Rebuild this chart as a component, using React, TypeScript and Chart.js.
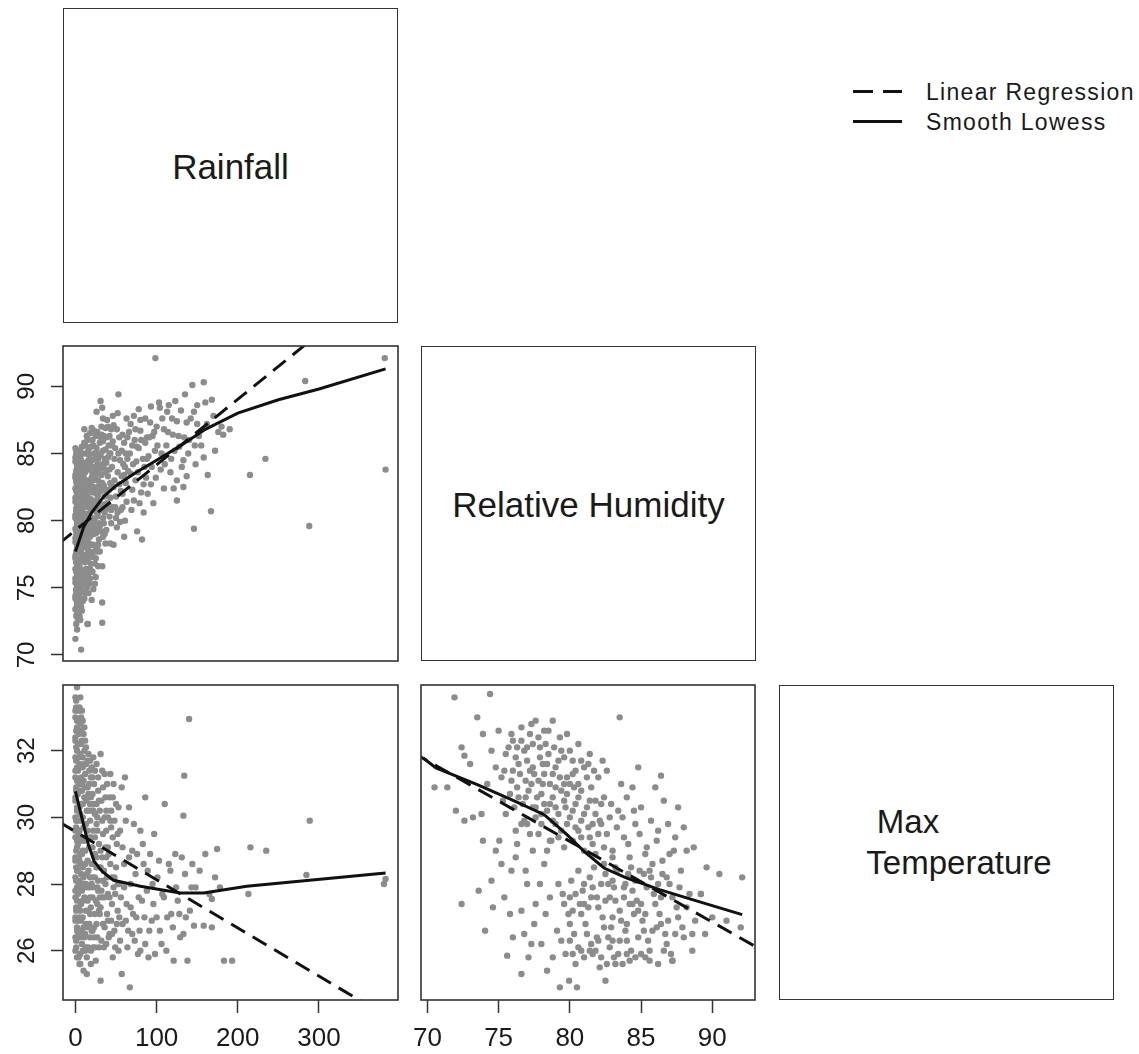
import React, { useEffect, useRef } from "react";
import { Chart, registerables } from "chart.js";

Chart.register(...registerables);

type Pt = [number, number];

// ---------------- DATA ----------------
const rainTicks = [0, 100, 200, 300];
const rhTicks = [70, 75, 80, 85, 90];
const tempTicks = [26, 28, 30, 32];

const rainRange = [-15.3, 397.3];
const rhRange = [69.55, 93.0];
const tempRange = [24.52, 33.97];

const variableLabels = ["Rainfall", "Relative Humidity", "Max", "Temperature"];
const legendLabels = ["Linear Regression", "Smooth Lowess"];

// Rainfall (x) vs Relative Humidity (y)
const rainRhPoints: Pt[] = [
  [0,85.4],[1,84.9],[0,84.4],[2,83.9],[0,83.4],[1,82.9],[0,82.4],[2,81.9],[0,81.4],[1,80.9],[0,80.4],[2,79.9],[0,79.4],[1,78.9],[0,78.4],[2,77.9],[0,77.4],[1,76.9],[0,76.4],[2,75.9],[0,75.4],[1,74.9],[0,74.4],[2,73.9],[0,73.4],[1,72.9],
  [3,85.1],[3,84.1],[3,83.1],[3,82.1],[3,81.1],[3,80.1],[3,79.1],[3,78.1],[3,77.1],[3,76.1],[3,75.1],[3,74.1],[2,73.2],
  [5,84.6],[6,83.6],[5,82.6],[7,81.6],[5,80.6],[6,79.6],[5,78.6],[7,77.6],[5,76.6],[6,75.6],[5,74.6],[7,73.6],[8,85.5],[8,83.0],[9,80.9],[8,79.0],[9,77.0],[8,75.2],[9,74.0],[6,72.6],
  [11,85.8],[12,84.3],[10,83.3],[13,82.4],[11,81.3],[14,80.2],[12,79.3],[15,78.4],[11,77.2],[13,76.4],[12,75.3],[16,74.6],[14,86.3],[17,84.9],[16,83.8],[18,82.8],[15,81.8],[19,80.8],[17,79.8],[18,78.8],[16,77.8],[19,76.8],[15,72.3],[18,75.7],[20,77.3],
  [21,86.0],[23,85.0],[22,84.0],[24,83.1],[21,82.1],[25,81.1],[23,80.1],[26,79.1],[22,78.2],[25,77.2],[21,76.2],[24,75.3],[27,86.6],[28,84.6],[26,83.6],[29,82.6],[27,81.6],[28,80.6],[30,79.6],[29,78.6],[27,77.7],[26,88.1],
  [31,88.9],[33,88.4],[32,87.0],[34,85.9],[31,84.9],[35,83.9],[33,82.8],[36,81.8],[32,80.8],[35,79.8],[34,78.8],[33,76.6],[37,85.3],[39,86.2],[38,84.3],[40,83.3],[41,82.3],[39,81.3],[42,80.3],[38,79.3],[43,78.3],[33,72.4],[33,73.9],[39,87.5],[44,86.8],[42,85.0],[45,84.0],
  [47,87.1],[49,85.4],[48,83.0],[50,81.8],[52,80.6],[51,79.5],[47,78.2],[54,86.2],[55,84.5],[57,83.3],[56,82.2],[58,81.0],[55,79.9],[60,85.8],[61,84.0],[62,82.8],[60,78.8],[63,87.6],[64,86.2],[53,89.4],[61,80.0],
  [67,85.0],[68,83.5],[70,82.3],[69,80.8],[72,87.8],[73,86.0],[75,84.4],[74,83.0],[76,79.2],[78,85.4],[80,87.5],[80,86.7],[81,82.1],[82,78.6],[84,80.6],[85,84.0],[86,85.8],[88,86.2],[87,83.2],[90,84.8],[92,87.3],[93,82.7],[95,86.3],[96,81.3],[98,85.2],[98.5,92.1],[100,87.0],
  [104,88.4],[105,83.8],[109,82.4],[109,86.8],[112,85.6],[113,88.1],[115,88.6],[118,84.6],[120,86.4],[121,82.4],[123,88.9],[125,87.4],[125,83.0],[125,81.5],[128,85.5],[133,82.5],[133,84.5],[135,89.4],[137,87.3],[137,83.3],[140,86.0],[144,90.1],[146,88.1],[146,79.4],[148,84.2],
  [150,88.6],[152,86.3],[158,90.3],[158,84.7],[162,87.2],[167,80.7],[168,89.0],[172,85.2],[176,86.6],[182,86.4],[215,83.4],[234,84.6],
  [283,90.4],[288,79.6],[381,92.1],[382,83.8],
  [7,70.4],[0,71.2],[2,71.9],[15,72.3],[20,74.1],[22,74.9],[25,75.8],[28,76.6],
  [1,85.2],[0,84.7],[2,84.2],[1,83.7],[0,83.2],[2,82.7],[1,82.2],[0,81.7],[2,81.2],[1,80.7],[0,80.2],[2,79.7],[1,79.2],[0,78.7],[2,78.2],[1,77.7],[0,77.2],[2,76.7],[1,76.2],[0,75.7],[2,75.2],[1,74.7],[0,74.2],[2,73.7],
  [4,84.9],[4,83.9],[4,82.9],[4,81.9],[4,80.9],[4,79.9],[4,78.9],[4,77.9],[4,76.9],[4,75.9],[4,74.9],[4,73.9],
  [6,84.2],[7,83.2],[6,82.2],[7,81.2],[6,80.2],[7,79.2],[6,78.2],[7,77.2],[6,76.2],[7,75.2],[6,74.2],
  [9,85.0],[10,84.0],[9,83.0],[10,82.0],[9,81.5],[10,80.5],[9,79.5],[10,78.5],[9,78.0],[10,77.0],[9,76.0],[10,75.5],[11,74.2],[8,73.3],[5,72.9],[3,72.6],[1,72.3],
  [12,85.6],[13,85.0],[14,84.0],[15,83.0],[13,82.0],[14,81.5],[13,80.5],[15,80.0],[14,79.0],[13,78.0],[14,77.5],[15,76.0],[13,75.8],[14,75.0],
  [16,85.3],[17,82.3],[18,81.3],[16,80.5],[17,78.3],[18,77.3],[16,76.3],[17,75.3],[19,85.5],[20,84.5],[21,83.5],[20,82.5],[19,81.6],[22,81.0],[20,80.2],[21,79.4],[19,78.2],[21,77.6],
  [23,86.7],[24,84.6],[22,83.0],[25,82.4],[24,80.9],[23,79.0],[24,76.8],[26,85.4],[27,84.2],[28,83.0],[26,82.0],[28,81.9],[27,80.3],[29,79.8],[28,78.2],[30,85.8],[30,84.0],[30,81.0],[30,77.7],
  [32,86.4],[34,85.2],[33,84.2],[36,84.6],[35,82.6],[37,82.3],[36,80.6],[38,80.9],[37,78.3],[40,87.0],[41,85.6],[43,85.0],[42,83.8],[44,82.7],[43,81.7],[45,81.0],[44,79.8],
  [46,87.8],[46,85.9],[48,84.6],[47,82.5],[49,81.0],[50,80.2],[52,88.0],[51,86.8],[53,85.0],[52,83.6],[54,82.7],[56,80.8],[58,86.4],[57,85.2],[59,84.2],[58,82.0],[60,83.4],[62,85.0],[63,81.4],[65,83.7],[66,86.6],[64,84.6],
  [68,87.2],[70,85.6],[71,84.2],[72,81.5],[74,86.8],[76,85.5],[77,83.6],[78,88.3],[79,81.3],[81,86.0],[83,84.6],[84,82.7],[86,87.6],[88,84.6],[89,82.0],[91,86.2],[93,88.5],[94,84.0],[97,86.6],[99,83.2],
  [101,85.6],[103,88.8],[106,85.0],[107,87.6],[110,84.2],[114,86.6],[117,83.6],[119,87.6],[122,85.2],[127,86.3],[130,88.2],[131,84.0],[134,86.2],[139,85.0],[142,87.6],[147,85.6],[150,87.2],[155,85.6],[160,88.8],[163,83.4],[170,87.8],[180,87.0],[190,86.8],
  [5,85.2],[6,84.8],[7,84.5],[8,84.0],[5,83.2],[7,82.8],[8,82.4],[5,81.9],[8,81.2],[6,80.7],[8,80.2],[5,79.8],[7,79.7],[6,79.0],[5,77.8],[8,77.4],[6,77.0],[8,76.3],[5,75.9],[7,74.8],
  [11,86.8],[12,83.6],[11,82.7],[12,81.8],[11,80.0],[12,78.8],[11,78.4],[12,76.9],[11,76.0],[12,74.6],
  [15,86.0],[16,84.5],[15,82.6],[16,81.0],[15,79.5],[16,79.2],[15,77.1],[16,75.7],
  [18,86.5],[18,84.2],[18,80.3],[18,79.6],[18,76.4],[20,86.9],[20,83.2],[20,81.3],[20,79.0],[20,76.2],
  [22,85.6],[23,83.9],[22,82.5],[23,81.4],[22,79.8],[23,77.7],[25,86.3],[26,84.9],[25,83.4],[26,80.6],[25,79.4],[26,78.0],
  [29,85.0],[29,83.6],[29,81.2],[28,79.4],[31,86.2],[32,83.4],[31,82.2],[32,79.2],[34,87.6],[35,86.3],[35,81.2],[34,80.2],[37,86.9],[37,83.6],[38,81.9],[36,79.0],[40,84.7],[41,81.1],[42,86.3],[43,82.8],[44,80.8],[45,85.6],
];
const rainRhRegression: Pt[] = [[-20, 78.3], [400, 98.8]];
const rainRhLowess: Pt[] = [
  [0,77.7],[5,78.6],[10,79.5],[20,80.6],[35,81.8],[50,82.6],[75,83.6],[100,84.5],[130,85.6],[160,86.8],[200,88.0],[250,89.0],[300,89.8],[382,91.3],
];

// Rainfall (x) vs Max Temperature (y)
const rainTempPoints: Pt[] = [
  [0,33.6],[1,33.3],[0,33.0],[2,32.7],[0,32.4],[1,32.1],[0,31.8],[2,31.5],[0,31.2],[1,30.9],[0,30.6],[2,30.3],[0,30.0],[1,29.7],[0,29.4],[2,29.1],[0,28.8],[1,28.5],[0,28.2],[2,27.9],[0,27.6],[1,27.3],[0,27.0],[2,26.7],[0,26.4],[1,26.1],
  [3,32.9],[3,32.2],[3,31.4],[3,30.7],[3,29.9],[3,29.2],[3,28.4],[3,27.7],[3,26.9],[2,33.9],[6,33.6],[2,25.8],
  [5,32.6],[6,31.9],[5,31.1],[7,30.4],[5,29.6],[6,28.9],[5,28.1],[7,27.4],[5,26.6],[6,25.9],[8,32.3],[9,31.5],[8,30.8],[9,30.0],[8,29.3],[9,28.5],[8,27.8],[9,27.0],[8,26.2],[7,33.0],
  [11,32.0],[12,31.3],[11,30.6],[13,29.8],[12,29.0],[14,28.3],[11,27.6],[13,26.8],[12,26.0],[15,31.7],[17,31.0],[16,30.2],[18,29.4],[15,28.7],[17,27.9],[16,27.2],[18,26.4],[19,25.6],[14,25.3],[20,31.5],[19,30.6],[20,28.0],
  [21,31.2],[23,30.4],[22,29.6],[24,28.9],[21,28.2],[25,27.5],[23,26.7],[22,26.1],[26,31.6],[28,30.8],[27,30.0],[29,29.2],[26,28.5],[28,27.8],[30,27.1],[27,26.4],[31,25.1],[32,30.5],[34,29.5],[33,28.8],[31,27.3],[34,26.8],[33,31.4],
  [36,31.3],[38,30.2],[37,29.1],[39,28.2],[36,27.6],[40,26.9],[38,26.2],[42,30.6],[44,29.7],[43,28.6],[45,27.4],[42,26.5],[47,31.0],[48,29.9],[50,28.5],[49,27.7],[51,26.8],[46,25.8],[53,30.3],[54,28.0],[52,27.2],[55,26.3],
  [57,25.3],[58,29.1],[60,27.9],[61,31.2],[62,26.9],[64,26.1],[66,28.8],[67,24.9],[68,27.3],[70,26.5],[72,29.8],[74,28.3],[75,27.0],[77,25.9],[79,26.6],[80,29.6],[82,27.5],[84,28.6],[86,30.6],[86,26.2],[88,27.8],[90,25.8],[92,28.9],[94,26.9],[96,27.4],[98,25.9],
  [101,28.2],[104,26.6],[107,27.7],[110,30.4],[112,26.0],[115,28.6],[118,27.1],[121,25.7],[123,28.9],[126,27.5],[129,26.4],[133,30.05],[134,31.25],[135,28.3],[133,26.5],[138,25.7],[140,32.95],[141,27.2],[144,28.6],[146,26.75],[148,27.9],
  [153,28.4],[158,26.75],[160,28.9],[165,27.7],[168,26.7],[168,27.55],[172,28.2],[174.5,29.05],[178,27.9],[183,25.7],[193,25.7],[213,27.7],[215.5,29.1],[235,29.0],
  [284.5,28.27],[288.6,29.9],[382,28.15],[380,28.0],
  [1,33.5],[0,33.2],[2,32.9],[1,32.6],[0,32.3],[2,32.0],[1,31.7],[0,31.4],[2,31.1],[1,30.8],[0,30.5],[2,30.2],[1,29.9],[0,29.6],[2,29.3],[1,29.0],[0,28.7],[2,28.4],[1,28.1],[0,27.8],[2,27.5],[1,27.2],[0,26.9],[2,26.6],[1,26.3],[0,26.0],
  [4,33.2],[4,32.5],[4,31.8],[4,31.0],[4,30.3],[4,29.5],[4,28.8],[4,28.0],[4,27.3],[4,26.5],[4,25.8],
  [6,32.8],[7,32.2],[6,31.5],[7,30.8],[6,30.1],[7,29.4],[6,28.6],[7,27.9],[6,27.2],[7,26.4],[6,25.6],[9,32.9],[10,32.5],[9,31.8],[10,31.1],[9,30.4],[10,29.7],[9,29.0],[10,28.2],[9,27.5],[10,26.7],[9,26.0],[10,25.4],
  [12,32.3],[13,31.6],[12,30.9],[14,30.2],[13,29.4],[12,28.6],[14,27.9],[13,27.2],[12,26.5],[14,25.8],[16,31.9],[17,31.4],[16,30.7],[18,29.9],[17,29.1],[16,28.4],[18,27.6],[17,26.8],[16,26.1],[19,31.2],[20,30.2],[19,29.4],[20,28.6],[19,27.3],[20,26.6],[19,26.0],
  [22,31.8],[23,31.0],[22,30.2],[24,29.4],[23,28.6],[22,27.9],[24,27.1],[23,26.4],[25,25.7],[26,30.4],[27,29.6],[26,28.8],[28,28.1],[27,27.4],[26,26.8],[29,26.1],[28,31.2],[30,30.2],[29,28.5],[30,27.6],[31,29.0],[32,26.3],[33,27.6],[34,30.9],[35,28.4],[35,26.1],
  [37,30.6],[38,29.6],[37,28.0],[39,27.1],[40,30.0],[41,28.9],[40,27.7],[41,26.4],[43,31.3],[44,30.2],[45,28.2],[44,26.9],[46,29.4],[47,27.9],[48,26.6],[50,30.4],[51,29.2],[52,28.0],[53,26.0],[55,29.6],[56,27.6],[57,30.9],[58,26.8],[60,28.6],
  [62,29.9],[63,27.4],[65,26.6],[66,30.3],[68,28.0],[70,29.0],[71,27.1],[73,26.3],[76,28.9],[78,27.6],[80,26.0],[83,29.2],[85,27.0],[89,28.4],[91,26.6],[95,28.0],[97,29.5],[100,27.0],[103,28.7],[106,26.2],[109,27.6],[113,27.0],[117,28.4],[120,26.7],[124,27.9],[128,27.1],[131,28.8],[136,27.0],[143,27.9],
  [5,33.3],[5,31.6],[5,30.3],[5,28.7],[5,27.0],[5,25.6],[7,32.6],[7,31.2],[7,29.9],[7,28.3],[7,26.9],[8,33.2],[8,31.0],[8,28.9],[8,26.6],[11,31.6],[11,29.3],[11,28.0],[11,26.4],[11,32.7],
  [13,32.1],[13,30.5],[13,28.0],[13,26.1],[15,30.9],[15,29.6],[15,27.5],[15,26.7],[18,31.7],[18,30.4],[18,28.2],[18,27.1],[21,30.7],[21,29.1],[21,27.6],[21,26.6],[24,31.4],[24,30.1],[24,28.2],[24,26.1],
  [26,29.8],[27,27.9],[29,30.5],[29,27.2],[31,31.9],[31,28.5],[32,27.8],[33,29.9],[34,28.1],[36,30.0],[36,26.7],[38,28.8],[39,31.0],[40,29.1],[42,27.6],[43,29.9],[45,26.5],[46,30.6],[48,28.2],[49,26.1],[52,29.5],[54,27.0],
];
const rainTempRegression: Pt[] = [[-20, 29.86], [400, 23.79]];
const rainTempLowess: Pt[] = [
  [0,30.78],[10,29.78],[16,29.18],[23,28.68],[33,28.38],[47,28.11],[80,27.93],[129,27.73],[158,27.73],[211,27.93],[382,28.33],
];

// Relative Humidity (x) vs Max Temperature (y)
const rhTempPoints: Pt[] = [
  [75.5,31.9],[76.0,32.3],[76.4,31.6],[76.8,32.0],[77.2,32.5],[77.5,31.3],[77.9,31.8],[78.3,32.2],[78.6,31.0],[79.0,31.5],[79.4,32.0],[79.8,31.2],[80.2,31.7],[80.6,31.0],[81.0,31.5],
  [75.2,31.2],[75.8,30.7],[76.3,30.9],[76.7,30.4],[77.1,30.8],[77.6,30.3],[78.0,30.7],[78.4,30.2],[78.8,30.6],[79.2,30.1],[79.6,30.5],[80.0,30.0],[80.4,30.4],[80.8,29.9],[81.2,30.3],[81.6,29.8],
  [77.0,29.8],[77.8,29.5],[78.6,29.3],[79.4,29.6],[80.2,29.3],[81.0,29.0],[81.8,28.9],[76.2,29.6],[75.5,30.1],[74.8,31.5],[74.5,32.0],[75.0,32.6],[76.6,32.7],[77.6,32.9],[78.5,32.6],
  [79.3,32.4],[80.6,32.2],[81.4,31.9],[82.0,31.2],[82.4,30.6],[82.8,30.0],[77.4,31.5],[78.2,31.3],[79.0,30.9],[76.0,31.4],[76.9,31.1],[80.0,31.0],[81.5,30.9],[75.3,30.5],
  [82.6,29.5],[83.0,29.0],[83.4,30.2],[83.8,29.4],[84.2,28.8],[84.6,29.8],[85.0,30.3],[85.4,29.1],[85.8,28.6],[86.2,29.6],[86.6,30.5],[87.0,28.9],[87.4,29.4],[87.8,28.4],[88.2,29.0],
  [83.2,28.5],[84.0,30.6],[85.2,28.3],[86.0,30.9],[86.8,28.2],[84.8,31.5],[86.4,31.25],[83.5,33.0],[88.7,29.1],[83.6,31.0],[82.2,29.8],[81.8,30.5],[82.6,31.4],[84.4,30.9],
  [79.2,28.0],[79.6,27.4],[80.0,26.8],[80.4,27.7],[80.8,27.1],[81.2,26.5],[81.6,27.9],[82.0,27.3],[82.4,26.7],[82.8,26.1],[83.2,27.5],[83.6,26.9],[84.0,26.3],[84.4,27.8],[84.8,27.2],
  [85.2,26.6],[85.6,26.0],[86.0,27.4],[86.4,26.8],[86.8,26.2],[87.2,27.6],[87.6,27.0],[88.0,26.4],[79.4,26.3],[80.2,25.9],[81.0,25.8],[81.8,26.0],[82.6,25.6],[83.4,25.9],[84.2,25.7],
  [85.0,25.9],[86.2,25.6],[87.2,25.7],[80.6,28.4],[81.4,28.2],[82.2,28.0],[83.0,28.1],[83.8,27.9],[84.6,28.1],[85.4,27.9],[86.2,28.0],[87.0,28.0],[88.4,27.7],[88.8,26.9],[89.2,27.7],
  [89.5,26.5],[88.6,26.0],[80.5,24.9],[79.95,25.1],[82.5,25.1],[81.0,27.4],[82.0,26.3],[83.0,27.0],[84.0,26.8],[85.0,27.4],[80.0,27.6],[82.8,27.6],
  [72.4,27.4],[73.6,27.8],[74.05,26.6],[74.5,28.1],[75.05,29.3],[73.9,29.3],[72.6,29.9],[75.6,25.85],[75.9,28.4],[76.6,27.2],[76.6,25.3],[77.5,26.8],[76.2,28.8],[77.0,28.0],[77.6,27.4],
  [78.2,28.6],[78.0,26.2],[78.6,27.6],[78.8,25.8],[77.4,29.0],[78.4,29.0],[76.8,26.5],[75.4,27.6],[74.8,29.0],
  [70.5,30.9],[71.4,30.9],[71.9,33.6],[74.4,33.7],[73.5,33.0],[73.9,32.5],[72.4,32.1],[72.6,31.85],[73.2,30.0],[73.8,30.1],[74.2,31.0],[73.0,31.6],[72.0,30.2],
  [92.1,28.2],[90.5,28.3],[92.0,26.7],[89.2,27.7],[87.2,25.7],[89.6,28.5],[90.0,27.0],[91.0,26.9],[88.0,29.7],[87.6,30.3],
  [75.7,32.1],[76.2,31.8],[76.6,32.3],[77.0,31.7],[77.4,32.2],[77.8,32.4],[78.1,31.6],[78.5,31.9],[78.9,32.1],[79.2,31.7],[79.6,31.8],[80.0,32.0],[80.4,31.4],[80.8,31.7],[81.2,31.2],
  [75.4,31.4],[75.9,31.1],[76.4,30.6],[76.9,30.6],[77.3,31.0],[77.7,30.6],[78.1,31.0],[78.6,30.4],[79.0,30.3],[79.4,30.8],[79.8,30.7],[80.2,30.2],[80.6,30.6],[81.0,30.1],[81.4,30.5],[81.8,30.1],[82.2,30.4],
  [76.8,29.9],[77.2,29.5],[77.6,30.0],[78.0,29.8],[78.8,29.9],[79.2,29.4],[79.6,29.1],[80.4,29.7],[80.8,29.4],[81.4,29.4],[82.0,29.5],[82.4,29.1],[79.8,32.5],[78.8,32.9],[77.9,32.1],[76.3,32.1],
  [80.3,30.9],[79.3,31.2],[78.4,31.6],[77.2,31.4],[81.7,31.4],[82.3,31.7],
  [82.9,30.4],[83.3,29.7],[83.7,30.0],[84.1,29.2],[84.5,30.2],[84.9,29.5],[85.3,28.9],[85.7,29.9],[86.1,29.3],[86.5,28.7],[83.0,28.8],[84.3,28.5],[85.6,28.4],[82.4,28.6],[81.6,29.2],[86.9,29.8],[87.3,29.0],
  [79.5,27.7],[79.9,27.1],[80.3,26.5],[80.7,27.4],[81.1,26.8],[81.5,26.2],[81.9,27.6],[82.3,27.0],[82.7,26.4],[83.1,25.8],[83.5,27.2],[83.9,26.6],[84.3,26.0],[84.7,27.5],[85.1,26.9],[85.5,26.3],
  [85.9,27.7],[86.3,27.1],[86.7,26.5],[87.1,25.9],[87.5,27.3],[87.9,26.7],[80.1,28.1],[80.9,27.8],[81.7,28.5],[82.5,28.3],[83.3,28.4],[84.1,28.3],[84.9,28.4],[85.7,28.2],[86.5,28.3],
  [80.4,25.6],[81.4,26.0],[82.2,25.8],[83.7,25.6],[84.6,25.8],[85.6,25.7],[86.6,26.0],[79.7,25.9],[81.3,27.3],[82.9,26.7],[84.5,27.1],[86.1,26.7],[87.7,27.9],[88.2,27.3],[88.6,26.5],[80.2,27.2],[83.8,27.6],
  [75.2,28.6],[75.8,27.1],[76.3,29.2],[76.9,28.4],[77.3,26.2],[77.9,28.0],[78.3,27.1],[78.7,29.3],[79.1,26.6],[76.0,26.4],[74.6,27.3],[77.1,25.8],[78.4,25.4],[79.3,24.9],
  [76.5,31.3],[77.0,32.1],[77.8,31.1],[78.2,32.6],[78.8,31.3],[79.6,31.0],[80.2,31.3],[80.8,30.8],[81.3,31.6],[76.1,30.3],[76.6,29.8],[77.4,30.3],[78.2,30.4],[79.0,29.8],[79.8,29.8],[80.6,29.6],
  [81.3,29.7],[82.1,29.9],[75.9,32.5],[77.3,32.8],[78.0,30.1],[79.7,30.3],
  [80.0,26.3],[80.6,26.1],[81.0,28.0],[81.5,27.6],[81.9,26.4],[82.5,27.5],[83.0,26.3],[83.5,26.3],[83.9,28.0],[84.2,27.4],[84.8,26.4],[85.3,27.1],[85.8,26.6],[86.4,27.6],[86.9,26.9],[87.4,26.5],
  [82.1,25.5],[83.2,25.6],[84.0,25.9],[85.3,25.8],[81.6,25.9],[80.8,26.0],[82.7,28.0],[84.4,27.4],[83.1,27.9],
];
const rhTempRegression: Pt[] = [[69, 31.94], [94, 25.89]];
const rhTempLowess: Pt[] = [
  [69.7,31.78],[70.6,31.48],[73.5,30.98],[75.9,30.53],[78.2,30.08],[79.8,29.48],[81.0,28.98],[82.4,28.48],[84.0,28.18],[86.3,27.83],[88.6,27.53],[92.1,27.08],
];

// ---------------- STYLE ----------------
const FONT = "'Liberation Sans', Arial, Helvetica, sans-serif";
const POINT_COLOR = "#8c8c8c";
const LINE_COLOR = "#111111";
const BOX_COLOR = "#333333";
const TEXT_COLOR = "#1a1a1a";

const boxPlugin = {
  id: "panelBox",
  afterDraw(chart: any) {
    const { ctx, chartArea } = chart;
    const { left, top, right, bottom } = chartArea;
    ctx.save();
    ctx.strokeStyle = BOX_COLOR;
    ctx.lineWidth = 1.6;
    ctx.strokeRect(left, top, right - left, bottom - top);
    ctx.restore();
  },
};

interface PanelProps {
  left: number;
  top: number;
  width: number;
  height: number;
  pad: { left: number; top: number; right: number; bottom: number };
  points: Pt[];
  lowess: Pt[];
  regression: Pt[];
  xRange: number[];
  yRange: number[];
  xTicks?: number[];
  yTicks?: number[];
}

function ScatterPanel(p: PanelProps) {
  const ref = useRef<HTMLCanvasElement | null>(null);
  useEffect(() => {
    const canvas = ref.current;
    if (!canvas) return;
    const toXY = (a: Pt[]) => a.map(([x, y]) => ({ x, y }));

    const xScale: any = p.xTicks
      ? {
          type: "linear",
          position: "bottom",
          bounds: "data",
          min: p.xRange[0],
          max: p.xRange[1],
          afterBuildTicks: (s: any) => {
            s.ticks = p.xTicks!.map((v) => ({ value: v }));
          },
          afterFit: (s: any) => {
            s.height = 54;
            s.paddingLeft = 0;
            s.paddingRight = 0;
          },
          grid: { drawOnChartArea: false, drawTicks: true, tickLength: 13, tickWidth: 1.5, tickColor: BOX_COLOR },
          border: { display: false },
          ticks: { autoSkip: false, minRotation: 0, maxRotation: 0, padding: 10, color: TEXT_COLOR, font: { family: FONT, size: 26 } },
        }
      : { type: "linear", bounds: "data", min: p.xRange[0], max: p.xRange[1], display: false };

    const yScale: any = p.yTicks
      ? {
          type: "linear",
          position: "left",
          bounds: "data",
          min: p.yRange[0],
          max: p.yRange[1],
          afterBuildTicks: (s: any) => {
            s.ticks = p.yTicks!.map((v) => ({ value: v }));
          },
          afterFit: (s: any) => {
            s.width = 63;
            s.paddingTop = 0;
            s.paddingBottom = 0;
          },
          grid: { drawOnChartArea: false, drawTicks: true, tickLength: 12, tickWidth: 1.5, tickColor: BOX_COLOR },
          border: { display: false },
          ticks: { autoSkip: false, minRotation: 90, maxRotation: 90, crossAlign: "center", padding: 10, color: TEXT_COLOR, font: { family: FONT, size: 24 } },
        }
      : { type: "linear", bounds: "data", min: p.yRange[0], max: p.yRange[1], display: false };

    const chart = new Chart(canvas, {
      type: "scatter",
      data: {
        datasets: [
          {
            data: toXY(p.points),
            pointRadius: 3.2,
            pointHoverRadius: 3.2,
            pointBackgroundColor: POINT_COLOR,
            pointBorderWidth: 0,
            order: 3,
          },
          {
            data: toXY(p.regression),
            showLine: true,
            borderColor: LINE_COLOR,
            borderWidth: 3,
            borderDash: [16, 9],
            pointRadius: 0,
            clip: 0,
            order: 2,
          },
          {
            data: toXY(p.lowess),
            showLine: true,
            borderColor: LINE_COLOR,
            borderWidth: 3,
            pointRadius: 0,
            clip: 0,
            order: 1,
          },
        ],
      } as any,
      options: {
        animation: false,
        responsive: false,
        events: [],
        layout: { padding: p.pad },
        plugins: { legend: { display: false }, tooltip: { enabled: false } },
        scales: { x: xScale, y: yScale },
      } as any,
      plugins: [boxPlugin],
    });
    return () => chart.destroy();
  }, []);
  return (
    <canvas
      ref={ref}
      width={p.width}
      height={p.height}
      style={{ position: "absolute", left: p.left, top: p.top, width: p.width, height: p.height }}
    />
  );
}

function LabelBox({ left, top, children }: { left: number; top: number; children?: React.ReactNode }) {
  return (
    <div
      style={{
        position: "absolute",
        left,
        top,
        width: 335,
        height: 315,
        boxSizing: "border-box",
        border: `1.6px solid ${BOX_COLOR}`,
      }}
    >
      {children}
    </div>
  );
}

const textBase: React.CSSProperties = {
  position: "absolute",
  fontFamily: FONT,
  color: TEXT_COLOR,
  whiteSpace: "nowrap",
  lineHeight: 1,
};

export default function App() {
  return (
    <div style={{ position: "absolute", left: 0, top: 0, width: 1139, height: 1054, background: "#fff", overflow: "hidden" }}>
      {/* diagonal label panels */}
      <LabelBox left={63} top={8}>
        <div style={{ ...textBase, left: 0, width: 333, textAlign: "center", top: 140, fontSize: 35 }}>{variableLabels[0]}</div>
      </LabelBox>
      <LabelBox left={421} top={346}>
        <div style={{ ...textBase, left: 0, width: 333, textAlign: "center", top: 140, fontSize: 35 }}>{variableLabels[1]}</div>
      </LabelBox>
      <LabelBox left={779} top={685} />
      <div style={{ ...textBase, left: 808, width: 200, textAlign: "center", top: 805, fontSize: 33 }}>{variableLabels[2]}</div>
      <div style={{ ...textBase, left: 859, width: 200, textAlign: "center", top: 846, fontSize: 33 }}>{variableLabels[3]}</div>

      {/* scatter panels */}
      <ScatterPanel
        left={0}
        top={336}
        width={408}
        height={335}
        pad={{ left: 0, top: 10, right: 10, bottom: 10 }}
        points={rainRhPoints}
        lowess={rainRhLowess}
        regression={rainRhRegression}
        xRange={rainRange}
        yRange={rhRange}
        yTicks={rhTicks}
      />
      <ScatterPanel
        left={0}
        top={675}
        width={408}
        height={379}
        pad={{ left: 0, top: 10, right: 10, bottom: 0 }}
        points={rainTempPoints}
        lowess={rainTempLowess}
        regression={rainTempRegression}
        xRange={rainRange}
        yRange={tempRange}
        xTicks={rainTicks}
        yTicks={tempTicks}
      />
      <ScatterPanel
        left={411}
        top={675}
        width={354}
        height={379}
        pad={{ left: 10, top: 10, right: 10, bottom: 0 }}
        points={rhTempPoints}
        lowess={rhTempLowess}
        regression={rhTempRegression}
        xRange={rhRange}
        yRange={tempRange}
        xTicks={rhTicks}
      />

      {/* legend */}
      <div style={{ position: "absolute", left: 853, top: 89.5, width: 20, height: 3, background: LINE_COLOR }} />
      <div style={{ position: "absolute", left: 883, top: 89.5, width: 19, height: 3, background: LINE_COLOR }} />
      <div style={{ position: "absolute", left: 853, top: 120, width: 49, height: 3, background: LINE_COLOR }} />
      <div style={{ ...textBase, left: 926, top: 80.5, fontSize: 23, letterSpacing: 1.3 }}>{legendLabels[0]}</div>
      <div style={{ ...textBase, left: 926, top: 110.5, fontSize: 23, letterSpacing: 1.3 }}>{legendLabels[1]}</div>
    </div>
  );
}
